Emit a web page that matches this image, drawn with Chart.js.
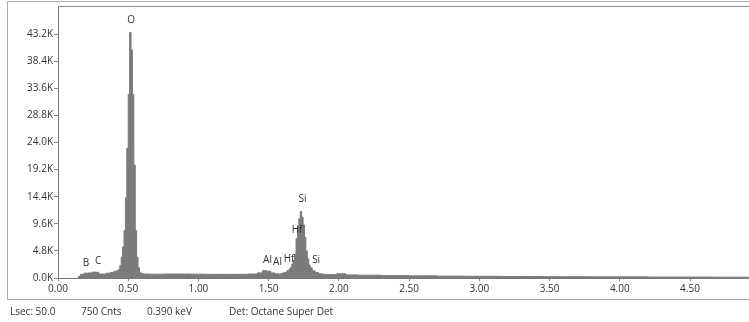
<!DOCTYPE html>
<html>
<head>
<meta charset="utf-8">
<script src="https://cdn.jsdelivr.net/npm/chart.js@4.4.1/dist/chart.umd.min.js"></script>
<style>
  html, body { margin: 0; padding: 0; background: #fff; }
  #wrap { position: relative; width: 749px; height: 322px; overflow: hidden; }
  #footer { position: absolute; top: 304px; left: 0; height: 16px; font: 10px 'Open Sans', sans-serif; color: #333; white-space: nowrap; }
  #footer span { position: absolute; top: 0; }
</style>
</head>
<body>
<div id="wrap">
  <canvas id="myChart" width="749" height="322"></canvas>
  <div id="footer">
    <span style="left:10px">Lsec: 50.0</span>
    <span style="left:81px">750 Cnts</span>
    <span style="left:147px">0.390 keV</span>
    <span style="left:229px">Det: Octane Super Det</span>
  </div>
</div>
<script>
'use strict';

// spectrum (keV, counts)
const energyKeV = [
  0.14, 0.15, 0.17, 0.20, 0.23, 0.26, 0.28, 0.30, 0.33, 0.36, 0.39, 0.41,
  0.425, 0.435, 0.445, 0.455, 0.465, 0.475, 0.485, 0.495, 0.505, 0.515, 0.525,
  0.535, 0.545, 0.555, 0.565, 0.575, 0.585, 0.595,
  0.62, 0.70, 0.80, 0.90, 1.00, 1.10, 1.20, 1.30, 1.40, 1.44, 1.47, 1.50, 1.53, 1.56,
  1.58, 1.60, 1.62, 1.64, 1.65, 1.66, 1.67, 1.68, 1.69, 1.70, 1.71, 1.72, 1.73,
  1.74, 1.75, 1.76, 1.77, 1.78, 1.79, 1.80, 1.82, 1.84, 1.87, 1.90,
  1.95, 2.02, 2.08, 2.20, 2.40, 2.60, 2.80, 3.00, 3.30, 3.60, 4.00, 4.40, 4.92
];
const counts = [
  0, 300, 650, 850, 900, 1050, 1000, 700, 700, 850, 1000, 1200,
  1300, 1500, 2200, 3700, 5500, 8400, 14200, 23000, 32500, 43500, 40400,
  32500, 20000, 8400, 3700, 1800, 1000, 800,
  700, 680, 700, 700, 680, 650, 650, 650, 700, 900, 1300, 1200, 900, 750,
  700, 850, 1000, 1300, 1600, 1900, 2500, 3200, 4200, 7000, 9000, 10500, 11800,
  10800, 9400, 7200, 4800, 3400, 2300, 1800, 1300, 1000, 750, 650,
  600, 750, 550, 500, 420, 380, 330, 300, 260, 230, 200, 170, 150
];

// element markers
const peakNames = ['B', 'C', 'O', 'Al', 'Al', 'Hf', 'Hf', 'Si', 'Si'];
const peakKeV = [0.199, 0.285, 0.520, 1.492, 1.563, 1.645, 1.702, 1.741, 1.838];
const peakCounts = [2640, 2990, 45700, 3160, 2870, 3290, 8440, 13890, 3160];

const xTicks = [0, 0.5, 1.0, 1.5, 2.0, 2.5, 3.0, 3.5, 4.0, 4.5];
const yTicks = [0, 4800, 9600, 14400, 19200, 24000, 28800, 33600, 38400, 43200];

Chart.defaults.font.family = "'Open Sans', sans-serif";
Chart.defaults.font.size = 10;
Chart.defaults.color = '#333';

const peakLabels = {
    id: 'peakLabels',
    afterDatasetsDraw(chart) {
        const ctx = chart.ctx;
        const xs = chart.scales.x, ys = chart.scales.y;
        ctx.save();
        ctx.fillStyle = '#333';
        ctx.font = "10px 'Open Sans', sans-serif";
        ctx.textAlign = 'center';
        ctx.textBaseline = 'middle';
        peakNames.forEach((n, i) => {
            ctx.fillText(n, xs.getPixelForValue(peakKeV[i]), ys.getPixelForValue(peakCounts[i]));
        });
        ctx.restore();
    }
};

const frame = {
    id: 'frame',
    afterDraw(chart) {
        const ctx = chart.ctx;
        const a = chart.chartArea;
        ctx.save();
        ctx.strokeStyle = '#a8a8a8';
        ctx.lineWidth = 1;
        ctx.beginPath();
        ctx.moveTo(760, 1.5);
        ctx.lineTo(7.5, 1.5);
        ctx.lineTo(7.5, 299.5);
        ctx.lineTo(760, 299.5);
        ctx.stroke();
        ctx.strokeStyle = '#888';
        ctx.beginPath();
        ctx.moveTo(a.left, a.top - 0.5);
        ctx.lineTo(760, a.top - 0.5);
        ctx.stroke();
        ctx.restore();
    }
};

const data = {
    datasets: [{
        label: 'Spectrum',
        data: energyKeV.map((e, i) => ({ x: e, y: counts[i] })),
        borderColor: '#7b7b7b',
        backgroundColor: '#7b7b7b',
        borderWidth: 1,
        fill: 'origin',
        stepped: 'middle',
        pointRadius: 0
    }]
};

const ctx = document.getElementById('myChart').getContext('2d');
const myChart = new Chart(ctx, {
    type: 'line',
    data: data,
    plugins: [peakLabels, frame],
    options: {
        responsive: false,
        devicePixelRatio: 1,
        animation: false,
        layout: { padding: { left: 0, right: 0, top: 5, bottom: 20 } },
        plugins: {
            legend: { display: false },
            tooltip: { enabled: false }
        },
        scales: {
            x: {
                type: 'linear',
                min: 0,
                max: 4.92,
                afterBuildTicks: s => { s.ticks = xTicks.map(v => ({ value: v })); },
                afterFit: s => { s.height = 24; },
                ticks: {
                    padding: 2,
                    maxRotation: 0,
                    callback: v => Number(v).toFixed(2)
                },
                grid: { drawOnChartArea: false, tickLength: 3, color: '#888' },
                border: { display: true, color: '#777' }
            },
            y: {
                min: 0,
                max: 48000,
                afterBuildTicks: s => { s.ticks = yTicks.map(v => ({ value: v })); },
                afterFit: s => { s.width = 58; },
                ticks: {
                    padding: 1,
                    callback: v => (v / 1000).toFixed(1) + 'K'
                },
                grid: { drawOnChartArea: false, tickLength: 4, color: '#888' },
                border: { display: true, color: '#777' }
            }
        }
    }
});
</script>
</body>
</html>
